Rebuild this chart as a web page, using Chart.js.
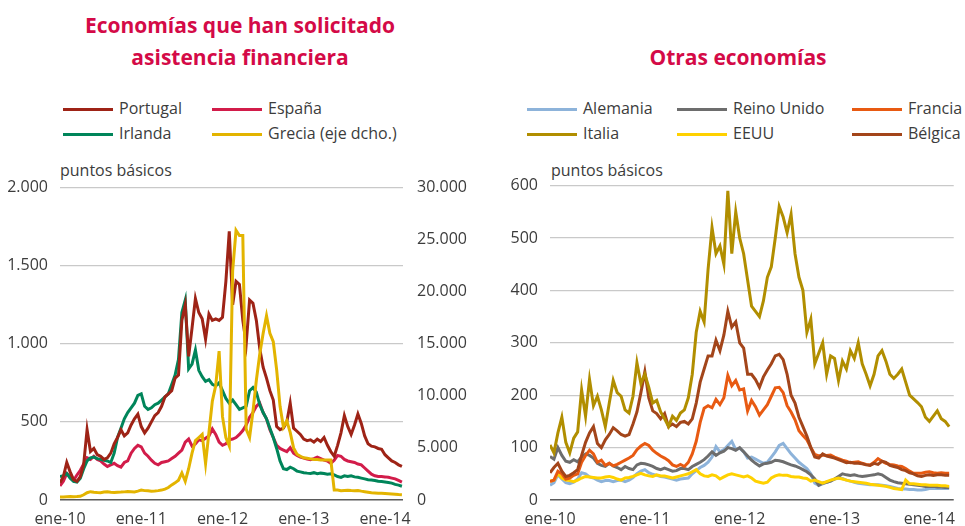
<!DOCTYPE html>
<html>
<head>
<meta charset="utf-8">
<script src="https://cdn.jsdelivr.net/npm/chart.js@4.4.0/dist/chart.umd.min.js"></script>
<style>
  body { margin: 0; width: 965px; height: 526px; overflow: hidden; background: #fff;
         font-family: "Open Sans", sans-serif; color: #3c3c3c; position: relative; }
  .titulo { position: absolute; font-weight: 700; font-size: 21px; color: #d40a47;
            text-align: center; line-height: 32px; }
  .ley { position: absolute; font-size: 16px; line-height: 20px; white-space: nowrap; }
  .ley i { display: inline-block; width: 50px; height: 3px; vertical-align: middle; margin-right: 6px; }
  .unid { position: absolute; font-size: 16px; line-height: 20px; }
  .caja { position: absolute; }
</style>
</head>
<body>

<div class="titulo" style="left:40px;top:9px;width:400px">Economías que han solicitado<br>asistencia financiera</div>
<div class="titulo" style="left:538px;top:41px;width:400px">Otras economías</div>

<div class="ley" style="left:63px;top:98px"><i style="background:#9e2316"></i>Portugal</div>
<div class="ley" style="left:212px;top:98px"><i style="background:#d21c4a"></i>España</div>
<div class="ley" style="left:63px;top:123px"><i style="background:#00855a"></i>Irlanda</div>
<div class="ley" style="left:212px;top:123px"><i style="background:#e3b400"></i>Grecia (eje dcho.)</div>

<div class="ley" style="left:527px;top:98px"><i style="background:#8db3da"></i>Alemania</div>
<div class="ley" style="left:677px;top:98px"><i style="background:#6d6d6d"></i>Reino Unido</div>
<div class="ley" style="left:852px;top:98px"><i style="background:#e85a12"></i>Francia</div>
<div class="ley" style="left:527px;top:123px"><i style="background:#b18e00"></i>Italia</div>
<div class="ley" style="left:677px;top:123px"><i style="background:#ffd100"></i>EEUU</div>
<div class="ley" style="left:852px;top:123px"><i style="background:#a3451a"></i>Bélgica</div>

<div class="unid" style="left:60px;top:160px">puntos básicos</div>
<div class="unid" style="left:551px;top:160px">puntos básicos</div>

<div class="caja" style="left:0;top:164px"><canvas id="izq" width="470" height="362"></canvas></div>
<div class="caja" style="left:490px;top:164px"><canvas id="der" width="475" height="362"></canvas></div>

<script>
// Valores quincenales desde enero de 2010 (dos por mes)
const portugal = [
  110, 150, 240, 180, 130, 120, 150, 230, 450, 310, 330, 290,
  280, 260, 270, 300, 360, 400, 450, 410, 430, 480, 520, 550,
  470, 430, 460, 500, 540, 560, 600, 660, 680, 700, 780, 800,
  1150, 1250, 920, 1100, 1290, 1200, 1160, 1030, 1190, 1150, 1160, 1150,
  1170, 1400, 1720, 1250, 1400, 1380, 1150, 1000, 1280, 1260, 1150, 970,
  850, 780, 700, 640, 470, 450, 460, 500, 620, 460, 440, 420,
  390, 380, 385, 370, 390, 375, 400, 350, 310, 280, 350, 430,
  540, 470, 420, 480, 550, 490, 410, 360, 345, 340, 330, 325,
  290, 270, 250, 240, 225, 215
];
const espana = [
  90, 120, 170, 150, 125, 160, 190, 230, 270, 260, 280, 260,
  250, 230, 215, 225, 235, 220, 210, 240, 250, 300, 330, 350,
  340, 300, 280, 255, 235, 225, 240, 245, 250, 265, 280, 300,
  320, 370, 390, 345, 360, 385, 380, 395, 410, 455, 420, 370,
  350, 360, 385, 390, 400, 420, 445, 480, 530, 560, 600, 620,
  560, 520, 450, 400, 350, 330, 320, 310, 335, 300, 285, 275,
  268, 262, 258, 265, 275, 265, 255, 250, 235, 255, 285, 280,
  260, 250, 245, 240, 230, 225, 205, 185, 165, 155, 150, 150,
  148, 145, 140, 135, 125, 115
];
const irlanda = [
  150, 155, 170, 140, 120, 115, 140, 200, 250, 270, 275, 265,
  260, 255, 250, 240, 300, 400, 460, 520, 560, 590, 620, 670,
  680, 600, 580, 590, 610, 620, 640, 660, 680, 740, 800, 900,
  1200, 1280, 840, 870, 960, 830, 790, 760, 770, 740, 730, 750,
  700, 650, 620, 640, 610, 580, 590, 600, 700, 720, 690, 610,
  560, 520, 460, 400, 330, 250, 200, 195, 210, 200, 185, 180,
  175, 172, 170, 175, 168, 172, 170, 165, 168, 160, 150, 145,
  155, 150, 155, 148, 145, 140, 135, 130, 128, 125, 120, 118,
  115, 112, 108, 100, 95, 88
];
const grecia = [
  300, 300, 320, 330, 320, 330, 350, 500, 700, 800, 750, 720,
  700, 760, 780, 740, 720, 750, 760, 780, 820, 800, 780, 850,
  950, 900, 880, 850, 870, 900, 950, 1050, 1200, 1450, 1650, 1900,
  2600, 1800, 3000, 4500, 5700, 6000, 6300, 3500, 6500, 9500, 11000, 14300,
  8000, 6000, 5200, 22000, 25900, 25400, 25400, 6800, 6000, 8500, 11500, 14000,
  16000, 17700, 16000, 15200, 12500, 9000, 7000, 7600, 6500, 5000, 4400, 4200,
  4050, 4000, 3950, 3900, 3880, 3850, 3850, 3830, 3830, 950, 950, 900,
  920, 930, 910, 900, 920, 850, 800, 750, 700, 680, 650, 640,
  620, 600, 580, 560, 520, 500
];

const alemania = [
  28, 33, 48, 40, 33, 31, 34, 40, 52, 50, 44, 42,
  38, 35, 37, 37, 35, 37, 38, 35, 38, 43, 50, 55,
  58, 52, 49, 47, 45, 44, 42, 40, 38, 40, 41, 42,
  50, 56, 62, 66, 72, 82, 102, 92, 96, 104, 112, 96,
  99, 92, 80, 82, 78, 74, 70, 72, 82, 92, 104, 108,
  98, 88, 80, 72, 66, 60, 50, 32, 28, 31, 34, 36,
  40, 42, 41, 38, 36, 34, 32, 31, 30, 29, 29, 29,
  28, 27, 26, 24, 22, 21, 21, 20, 20, 19, 19, 20,
  22, 22, 22, 22, 22, 22
];
const reinoUnido = [
  83, 78, 100, 85, 74, 72, 77, 73, 82, 88, 85, 80,
  70, 66, 64, 70, 65, 62, 58, 64, 60, 58, 67, 70,
  69, 67, 64, 60, 58, 61, 58, 55, 56, 60, 60, 58,
  64, 68, 72, 77, 84, 92, 85, 90, 93, 100, 98, 95,
  100, 92, 84, 76, 70, 65, 69, 70, 72, 76, 75, 73,
  70, 67, 65, 62, 58, 54, 48, 40, 28, 32, 34, 36,
  40, 45, 50, 48, 47, 48, 46, 45, 46, 47, 48, 50,
  48, 43, 38, 35, 33, 32, 31, 30, 29, 28, 27, 26,
  26, 26, 25, 25, 24, 24
];
const francia = [
  35, 38, 55, 50, 40, 42, 47, 50, 72, 85, 95, 88,
  72, 76, 66, 70, 65, 68, 72, 76, 80, 85, 96, 103,
  108, 104, 95, 89, 84, 80, 75, 67, 64, 68, 64, 72,
  88, 112, 148, 175, 180, 176, 192, 182, 195, 238, 218, 228,
  210, 212, 170, 190, 178, 162, 172, 182, 198, 214, 215, 205,
  180, 168, 153, 132, 123, 115, 100, 87, 84, 86, 85, 86,
  82, 79, 76, 74, 71, 72, 73, 70, 68, 67, 72, 79,
  74, 70, 68, 67, 65, 64, 60, 55, 51, 51, 51, 53,
  54, 52, 51, 52, 51, 51
];
const italia = [
  105, 90, 128, 158, 110, 90, 118, 130, 210, 160, 230, 180,
  198, 172, 140, 185, 228, 205, 198, 172, 166, 198, 262, 222,
  240, 215, 185, 190, 168, 155, 140, 160, 152, 166, 172, 195,
  240, 320, 360, 340, 440, 520, 470, 485, 450, 590, 470, 550,
  500, 470, 420, 370, 360, 350, 380, 425, 445, 500, 560, 540,
  510, 545, 470, 425, 400, 320, 345, 260, 280, 300, 240, 275,
  270, 228, 265, 250, 285, 270, 300, 260, 240, 218, 240, 275,
  285, 265, 240, 232, 240, 250, 225, 200, 193, 186, 178, 158,
  150, 160, 170, 155, 150, 140
];
const eeuu = [
  36, 38, 50, 42, 38, 37, 35, 38, 42, 45, 44, 43,
  42, 42, 44, 45, 43, 40, 38, 42, 43, 45, 48, 51,
  48, 46, 45, 48, 46, 46, 44, 42, 44, 46, 48, 50,
  54, 58, 50, 46, 45, 48, 46, 40, 44, 48, 50, 48,
  46, 44, 46, 42, 36, 34, 32, 34, 42, 46, 48, 47,
  47, 45, 44, 44, 42, 41, 36, 38, 35, 32, 35, 38,
  40, 42, 40, 38, 36, 35, 34, 33, 32, 30, 29, 28,
  27, 26, 24, 22, 21, 20, 38, 31, 31, 30, 29, 29,
  28, 28, 28, 27, 27, 26
];
const belgica = [
  52, 62, 70, 55, 45, 47, 52, 58, 85, 110, 128, 140,
  108, 100, 115, 125, 138, 132, 125, 122, 125, 145, 168, 205,
  245, 195, 170, 165, 155, 165, 140, 145, 140, 148, 150, 145,
  155, 185, 225, 250, 275, 275, 305, 285, 315, 360, 330, 340,
  300, 290, 240, 240, 230, 215, 235, 248, 260, 275, 278, 268,
  240, 200, 185, 158, 140, 122, 100, 82, 80, 88, 84, 82,
  80, 77, 74, 71, 72, 70, 70, 69, 67, 66, 70, 68,
  74, 72, 66, 64, 62, 58, 56, 52, 50, 46, 45, 47,
  48, 47, 48, 48, 47, 47
];

// meses transcurridos desde enero de 2010, uno por observación
const meses = portugal.map((_, i) => i / 2);
const ticksAnyo = [0, 12, 24, 36, 48];
const etiquetasAnyo = ["ene-10", "ene-11", "ene-12", "ene-13", "ene-14"];

Chart.defaults.font.family = "'Open Sans', sans-serif";
Chart.defaults.font.size = 16;
Chart.defaults.color = "#3c3c3c";

const miles = v => String(v).replace(/\B(?=(\d{3})+(?!\d))/g, ".");

function serie(nombre, valores, color, orden, eje) {
    return {
        label: nombre,
        data: valores.map((v, i) => ({ x: meses[i], y: v })),
        borderColor: color,
        borderWidth: 3,
        pointRadius: 0,
        tension: 0,
        order: orden,
        yAxisID: eje || "y",
    };
}

function ejeX(max) {
    return {
        type: "linear",
        min: 0,
        max: max,
        afterBuildTicks: s => { s.ticks = ticksAnyo.map(v => ({ value: v })); },
        afterFit: s => { s.height = 26; },
        grid: { display: false, drawTicks: false },
        border: { display: false },
        ticks: {
            padding: 10,
            autoSkip: false,
            maxRotation: 0,
            callback: v => etiquetasAnyo[ticksAnyo.indexOf(v)],
        },
    };
}

function ejeY(max, paso) {
    return {
        min: 0,
        max: max,
        afterFit: s => { s.width = 60; },
        border: { display: false },
        grid: {
            drawTicks: false,
            color: c => (c.tick.value === 0 ? "#5a5a5a" : "#c9c9c9"),
            lineWidth: c => (c.tick.value === 0 ? 1.6 : 1.2),
        },
        ticks: { stepSize: paso, padding: 12, callback: miles },
    };
}

const comunes = {
    responsive: false,
    animation: false,
    layout: { padding: { top: 10 } },
    plugins: { legend: { display: false }, tooltip: { enabled: false } },
};

new Chart(document.getElementById("izq"), {
    type: "line",
    data: {
        datasets: [
            serie("Portugal", portugal, "#9e2316", 1),
            serie("España", espana, "#d21c4a", 3),
            serie("Irlanda", irlanda, "#00855a", 2),
            serie("Grecia (eje dcho.)", grecia, "#e3b400", 0, "y2"),
        ],
    },
    options: {
        ...comunes,
        scales: {
            x: ejeX(50.66),
            y: ejeY(2000, 500),
            y2: {
                position: "right",
                min: 0,
                max: 30000,
                afterFit: s => { s.width = 67; },
                border: { display: false },
                grid: { display: false, drawTicks: false },
                ticks: { stepSize: 5000, padding: 14, callback: miles },
            },
        },
    },
});

new Chart(document.getElementById("der"), {
    type: "line",
    data: {
        datasets: [
            serie("Alemania", alemania, "#8db3da", 5),
            serie("Reino Unido", reinoUnido, "#6d6d6d", 4),
            serie("Francia", francia, "#e85a12", 2),
            serie("Italia", italia, "#b18e00", 0),
            serie("EEUU", eeuu, "#ffd100", 3),
            serie("Bélgica", belgica, "#a3451a", 1),
        ],
    },
    options: {
        ...comunes,
        scales: {
            x: ejeX(51.08),
            y: ejeY(600, 100),
        },
    },
});
</script>
</body>
</html>
